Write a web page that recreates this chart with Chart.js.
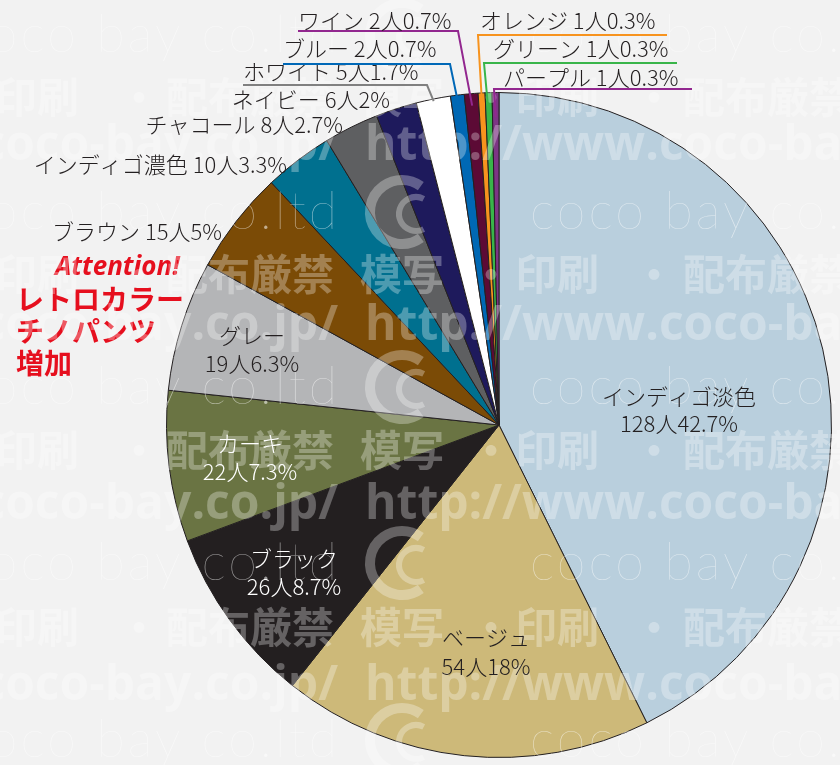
<!DOCTYPE html>
<html lang="ja">
<head>
<meta charset="utf-8">
<title>カラー別 人数</title>
<script src="https://cdn.jsdelivr.net/npm/chart.js@4.4.0/dist/chart.umd.min.js"></script>
<style>
  html, body { margin: 0; padding: 0; background: #f2f2f2; }
  canvas { display: block; }
</style>
</head>
<body>
<canvas id="colorPie" width="840" height="765"></canvas>
<script>
// data (clockwise from 12 o'clock)
const colorNames = ["インディゴ淡色", "ベージュ", "ブラック", "カーキ", "グレー", "ブラウン", "インディゴ濃色",
    "チャコール", "ネイビー", "ホワイト", "ブルー", "ワイン", "オレンジ", "グリーン", "パープル"];
const peopleCounts = [128, 54, 26, 22, 19, 15, 10, 8, 6, 5, 2, 2, 1, 1, 1];
const percentLabels = ["42.7%", "18%", "8.7%", "7.3%", "6.3%", "5%", "3.3%", "2.7%", "2%", "1.7%",
    "0.7%", "0.7%", "0.3%", "0.3%", "0.3%"];

const sliceColors = ["#b9cfdd", "#cdb979", "#231f20", "#6a7443", "#b4b5b7", "#7b4b06", "#00708f",
    "#5e5f61", "#1e1a5c", "#ffffff", "#0068b4", "#5c0a35", "#f7931e", "#39b54a", "#7d3585"];

const labelFont = '300 22px "Noto Sans CJK JP", sans-serif';
const textDark = "#231f20";

// two-line labels drawn inside the big slices
const insideLabels = {
    0: {x: 679, y1: 397, y2: 424, color: textDark},
    1: {x: 486, y1: 638, y2: 667, color: textDark},
    2: {x: 294, y1: 559, y2: 587, color: "#ffffff"},
    3: {x: 250, y1: 444, y2: 472, color: "#ffffff"},
    4: {x: 252, y1: 336, y2: 364, color: textDark}
};

// one-line labels outside, right aligned
const outsideLabels = {
    5: {right: 222, y: 232},
    6: {right: 287, y: 165},
    7: {right: 343, y: 125},
    8: {right: 390, y: 100}
};

// labels with an underline and a leader into the slice
const leaderLabels = {
    9:  {left: 243, y: 72, lineY: 85, from: 243, corner: 427, color: "#808080", inset: 2},
    10: {left: 283, y: 49, lineY: 64, from: 283, corner: 450, color: "#0068b7", inset: 10},
    11: {left: 298, y: 21, lineY: 31, from: 298, corner: 458, color: "#92278f", inset: 12},
    12: {left: 480, y: 21, lineY: 35, from: 667, corner: 478, color: "#f7931e", inset: 30},
    13: {left: 493, y: 49, lineY: 63, from: 677, corner: 484, color: "#39b54a", inset: 30},
    14: {left: 503, y: 78, lineY: 89, from: 692, corner: 494, color: "#92278f", inset: 25}
};

function labelText(i) {
    return colorNames[i] + " " + peopleCounts[i] + "人" + percentLabels[i];
}

function drawWatermark(ctx) {
    ctx.save();
    ctx.fillStyle = "rgba(255,255,255,0.3)";
    ctx.textBaseline = "middle";

    // 印刷・配布厳禁 rows
    ctx.font = 'bold 42px "Noto Sans CJK JP", sans-serif';
    ctx.textAlign = "left";
    const kanjiParts = [["印刷", -5], ["・", 118], ["配布厳禁", 166], ["模写", 360], ["・", 470],
        ["印刷", 515], ["・", 633], ["配布厳禁", 683]];
    [97, 274, 450, 627].forEach(y => {
        kanjiParts.forEach(p => ctx.fillText(p[0], p[1], y));
    });

    // url rows
    ctx.font = 'bold 48px "Open Sans", sans-serif';
    [146, 326, 505, 686].forEach(y => {
        ctx.textAlign = "right";
        ctx.fillText("http://www.coco-bay.co.jp/", 338, y);
        ctx.textAlign = "left";
        ctx.fillText("http://www.coco-bay.co.jp/", 365, y);
    });

    // thin logo rows
    ctx.fillStyle = "rgba(255,255,255,0.55)";
    ctx.font = '100 52px Lato, sans-serif';
    ctx.letterSpacing = "3px";
    ctx.strokeStyle = "rgba(255,255,255,0.3)";
    [35, 212, 387, 563, 740].forEach(y => {
        ctx.textAlign = "right";
        ctx.fillText("coco bay co.ltd", 340, y);
        ctx.textAlign = "left";
        ctx.fillText("coco bay co.ltd", 530, y);
        ctx.lineWidth = 10;
        ctx.beginPath();
        ctx.arc(402, y, 32, 0.3 * Math.PI, 1.7 * Math.PI);
        ctx.stroke();
        ctx.lineWidth = 6;
        ctx.beginPath();
        ctx.arc(416, y + 2, 17, 0.35 * Math.PI, 1.65 * Math.PI);
        ctx.stroke();
    });
    ctx.restore();
}

function drawAttention(ctx) {
    ctx.save();
    ctx.fillStyle = "#e60f1e";
    ctx.textBaseline = "middle";
    ctx.textAlign = "left";
    ctx.font = 'italic bold 26px "Noto Sans", sans-serif';
    ctx.fillText("Attention!", 55, 268);
    ctx.font = 'bold 28px "Noto Sans CJK JP", sans-serif';
    ctx.fillText("レトロカラー", 16, 299);
    ctx.fillText("チノパンツ", 16, 331);
    ctx.fillText("増加", 16, 363);
    ctx.restore();
}

const sliceLabels = {
    id: "sliceLabels",
    afterDatasetsDraw(chart) {
        const ctx = chart.ctx;
        const arcs = chart.getDatasetMeta(0).data;

        drawAttention(ctx);
        drawWatermark(ctx);

        ctx.save();
        ctx.font = labelFont;
        ctx.textBaseline = "middle";

        Object.keys(insideLabels).forEach(k => {
            const l = insideLabels[k];
            ctx.fillStyle = l.color;
            ctx.textAlign = "center";
            ctx.fillText(colorNames[k], l.x, l.y1);
            ctx.fillText(peopleCounts[k] + "人" + percentLabels[k], l.x, l.y2);
        });

        ctx.fillStyle = textDark;
        Object.keys(outsideLabels).forEach(k => {
            const l = outsideLabels[k];
            ctx.textAlign = "right";
            ctx.fillText(labelText(k), l.right, l.y);
        });

        Object.keys(leaderLabels).forEach(k => {
            const l = leaderLabels[k];
            const a = arcs[k].getProps(["x", "y", "startAngle", "endAngle", "outerRadius"], true);
            const mid = (a.startAngle + a.endAngle) / 2;
            const px = a.x + Math.cos(mid) * (a.outerRadius - l.inset);
            const py = a.y + Math.sin(mid) * (a.outerRadius - l.inset);
            ctx.strokeStyle = l.color;
            ctx.lineWidth = 2;
            ctx.beginPath();
            ctx.moveTo(l.from, l.lineY);
            ctx.lineTo(l.corner, l.lineY);
            ctx.lineTo(px, py);
            ctx.stroke();
            ctx.fillStyle = textDark;
            ctx.textAlign = "left";
            ctx.fillText(labelText(k), l.left, l.y);
        });
        ctx.restore();
    }
};

new Chart("colorPie", {
    type: "pie",
    data: {
        labels: colorNames,
        datasets: [
            {
                data: peopleCounts,
                backgroundColor: sliceColors,
                borderColor: "#231f20",
                borderWidth: 1
            }
        ]
    },
    options: {
        responsive: false,
        animation: false,
        devicePixelRatio: 1,
        layout: {padding: {left: 166, right: 8, top: 92, bottom: 7}},
        plugins: {
            legend: {display: false},
            tooltip: {enabled: false}
        }
    },
    plugins: [sliceLabels]
});
</script>
</body>
</html>
